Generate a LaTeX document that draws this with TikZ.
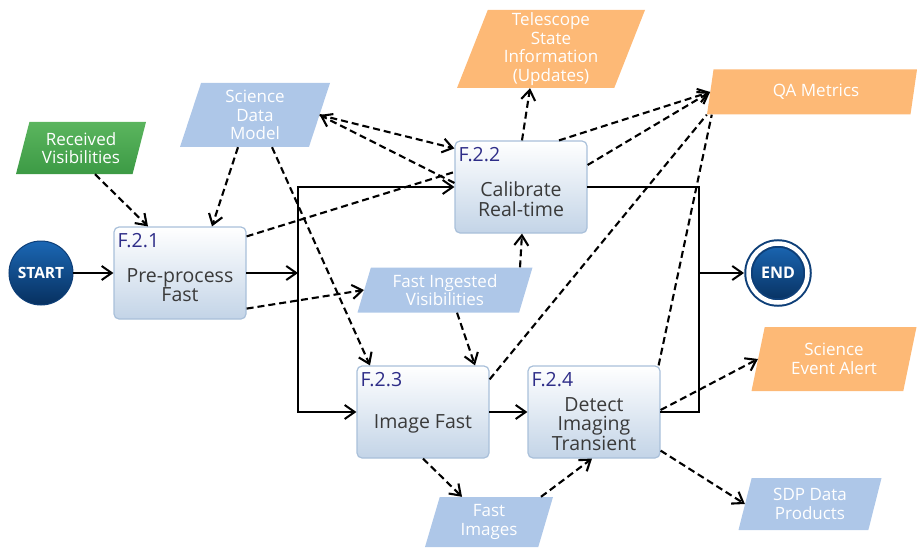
\documentclass[tikz,border=0pt]{standalone}
\usepackage{fontspec}
\setmainfont{Open Sans}
\usetikzlibrary{arrows.meta,shapes.geometric}
\definecolor{navyT}{HTML}{2E2D88}
\definecolor{boxB}{HTML}{A9C0DA}
\definecolor{boxBot}{HTML}{C3D4E7}
\definecolor{bluePar}{HTML}{AEC7E8}
\definecolor{orangePar}{HTML}{FDB976}
\definecolor{greenTop}{HTML}{5BB55E}
\definecolor{greenBot}{HTML}{3C9A45}
\definecolor{circTop}{HTML}{1B67B4}
\definecolor{circBot}{HTML}{07305F}
\definecolor{circEdge}{HTML}{0E3F78}
\definecolor{bodyT}{HTML}{3A3A3A}
\begin{document}
\begin{tikzpicture}[x=1pt,y=-1pt,
  procbox/.style={rectangle, rounded corners=5pt, draw=boxB, line width=1.2pt,
    top color=white, bottom color=boxBot, minimum width=132pt, minimum height=92pt, inner sep=0pt},
  boxid/.style={anchor=north west, inner sep=0pt, xshift=4pt, yshift=-7pt, text=navyT,
    font=\fontsize{19.5}{19.5}\selectfont},
  boxtxt/.style={yshift=-12pt, align=center, text=bodyT, inner sep=0pt,
    font=\fontsize{19.5}{19.5}\selectfont},
  para/.style={trapezium, trapezium left angle=67, trapezium right angle=113,
    trapezium stretches body, inner sep=0pt, text=white, align=center,
    font=\fontsize{17}{18.5}\selectfont},
  bluep/.style={para, fill=bluePar},
  orangep/.style={para, fill=orangePar},
  greenp/.style={para, top color=greenTop, bottom color=greenBot},
  startc/.style={circle, minimum size=64pt, inner sep=0pt, top color=circTop, bottom color=circBot,
    draw=circEdge, line width=1pt, text=white, font=\bfseries\fontsize{15.5}{16}\selectfont},
  endc/.style={circle, minimum size=59pt, inner sep=0pt, top color=circTop, bottom color=circBot,
    draw=circEdge, line width=2pt, double=white, double distance=4.5pt, outer sep=4.5pt,
    text=white, font=\bfseries\fontsize{16}{16}\selectfont},
  arr/.style={-{Straight Barb[length=10pt,width=14pt]}},
  solidl/.style={line width=2pt, line cap=rect},
  dashl/.style={line width=2.1pt, dash pattern=on 7pt off 4pt}
]
\useasboundingbox (0,0) rectangle (917,548);

% process boxes
\node[procbox, label={[boxid]north west:F.2.1}, label={[boxtxt]center:Pre-process\\Fast}] (f21) at (180,273) {};
\node[procbox, label={[boxid]north west:F.2.2}, label={[boxtxt]center:Calibrate\\Real-time}] (f22) at (521,187) {};
\node[procbox, label={[boxid]north west:F.2.3}, label={[boxtxt]center:Image Fast}] (f23) at (423,412) {};
\node[procbox, label={[boxid]north west:F.2.4}, label={[boxtxt]center:Detect\\Imaging\\Transient}] (f24) at (594,412) {};

% start / end
\node[startc] (start) at (41,273) {START};
\node[endc] (end) at (778,273) {END};

% data items
\node[greenp, minimum width=130pt, minimum height=52pt] (rv) at (81,148) {Received\\Visibilities};
\node[bluep, minimum width=150pt, minimum height=64pt] (sdm) at (255,115) {Science\\Data\\Model};
\node[orangep, minimum width=188pt, minimum height=78pt] (tsi) at (551,49) {Telescope\\State\\Information\\(Updates)};
\node[orangep, minimum width=210pt, minimum height=45pt] (qa) at (812,92) {\hspace*{8pt}QA Metrics};
\node[bluep, minimum width=175pt, minimum height=45pt] (fiv) at (445,290) {Fast Ingested\\Visibilities};
\node[bluep, minimum width=128pt, minimum height=50pt] (fimg) at (489,522) {Fast\\Images};
\node[orangep, minimum width=165pt, minimum height=64pt] (sea) at (834,359) {Science\\Event Alert};
\node[bluep, minimum width=143pt, minimum height=52pt] (sdp) at (810,504) {SDP Data\\Products};

% solid flow
\coordinate (jl) at (298,273);
\coordinate (jr) at (699,273);
\draw[solidl, arr] (start) -- (f21);
\draw[solidl, arr] (f21) -- (jl);
\draw[solidl, arr] (jl |- f23.west) -- (jl |- f22.west) -- (f22.west);
\draw[solidl, arr] (jl |- f23.west) -- (f23.west);
\draw[solidl, arr] (f23) -- (f24);
\draw[solidl] (f22.east) -| (jr);
\draw[solidl] (f24.east) -| (jr);
\draw[solidl, arr] (jr) -- (end);

% dashed data flows
\draw[dashl, arr] ([xshift=14pt]rv.south) -- ([xshift=-32pt]f21.north);
\draw[dashl, arr] ([xshift=-17pt]sdm.south) -- ([xshift=32pt]f21.north);
\draw[dashl, arr] ([xshift=17pt]sdm.south) -- ([xshift=-53pt]f23.north);
\draw[dashl, arr] (sdm.east) -- ([yshift=-8pt]f22.north west);
\draw[dashl, arr] ([yshift=4pt]f22.west) -- (sdm.east);
\draw[dashl] ([yshift=-10pt]f21.north east) -- ([yshift=15pt]f22.west);
\draw[dashl, arr] ([yshift=11pt]f21.south east) -- (fiv.west);
\draw[dashl, arr] ([xshift=75pt]fiv.north) -- ([xshift=1pt]f22.south);
\draw[dashl, arr] ([xshift=12pt]fiv.south) -- ([xshift=52pt]f23.north);
\draw[dashl, arr] ([xshift=1pt]f22.north) -- ([xshift=-21pt]tsi.south);
\draw[dashl, arr] ([xshift=38pt]f22.north) -- (qa.west);
\draw[dashl, arr] ([yshift=22pt]f22.east) -- (qa.west);
\draw[dashl] ([yshift=-14pt]f23.north east) -- (qa.bottom left corner);
\draw[dashl] ([xshift=-2pt]f24.north east) -- ([xshift=5pt]qa.bottom left corner);
\draw[dashl, arr] ([yshift=2pt]f24.east) -- (sea.west);
\draw[dashl, arr] ([yshift=8pt]f24.south east) -- (sdp.west);
\draw[dashl, arr] (f23.south) -- ([xshift=-27pt]fimg.north);
\draw[dashl, arr] ([xshift=52pt]fimg.north) -- ([xshift=-2pt]f24.south);
\end{tikzpicture}
\end{document}
